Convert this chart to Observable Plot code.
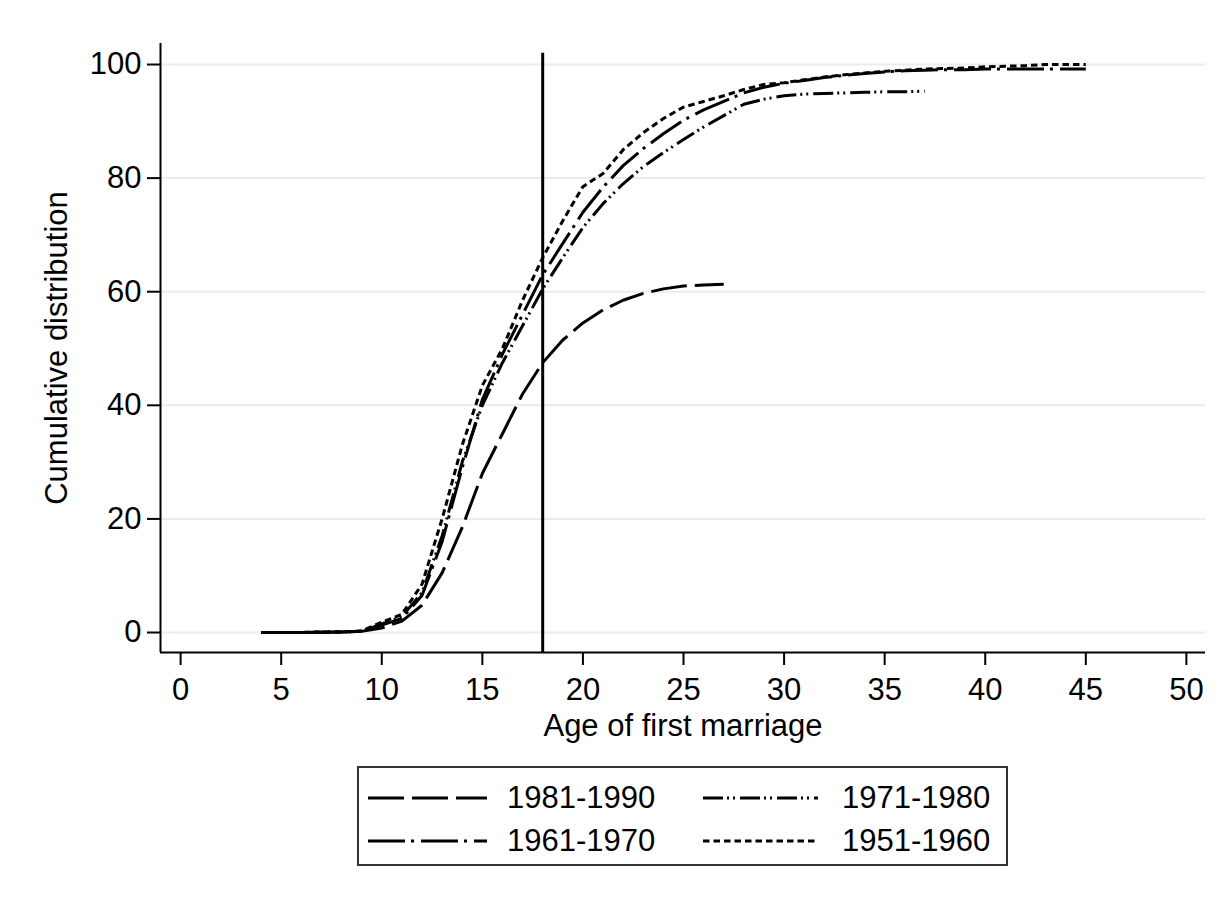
<!DOCTYPE html>
<html>
<head>
<meta charset="utf-8">
<script src="https://cdn.jsdelivr.net/npm/d3@7"></script>
<script src="https://cdn.jsdelivr.net/npm/@observablehq/plot@0.6"></script>
<style>
  html, body { margin: 0; padding: 0; background: #fff; }
  #wrap { position: relative; width: 1225px; height: 903px; overflow: hidden; font-family: "Liberation Sans", Arial, sans-serif; }
  #topline { position: absolute; left: 5px; top: 11px; width: 1220px; height: 2px; background: #e6eef0; }
  #chart { position: absolute; left: 0; top: 0; }
  #legend { position: absolute; left: 357px; top: 766px; width: 647px; height: 96px; border: 2px solid #333; box-sizing: content-box; }
  .item { position: absolute; height: 40px; width: 300px; font-size: 31px; color: #000; }
  .item svg { position: absolute; left: 0; top: 0; display: block; }
  .item span { position: absolute; top: 2px; white-space: nowrap; line-height: 36px; }
</style>
</head>
<body>
<div id="wrap">
  <div id="topline"></div>
  <div id="chart"></div>
  <div id="legend"></div>
</div>
<script>
// ---- data ----
const cohorts = ["1981-1990", "1971-1980", "1961-1970", "1951-1960"];
const ages1981 = d3.range(4, 28);   // 4..27
const cdf1981 = [0,0,0,0,0.1,0.2,0.8,2,4.8,10.5,18.5,28,35,42,47.5,51.5,54.5,56.8,58.5,59.7,60.5,61,61.2,61.3];
const ages1971 = d3.range(4, 38);   // 4..37
const cdf1971 = [0,0,0,0.1,0.1,0.2,1.5,2.8,7,17,30,40,47.5,54,60.5,66,71.3,75.5,79,82,84.5,86.8,89,91,93,93.9,94.5,94.8,94.9,95,95.1,95.2,95.2,95.3];
const ages1961 = d3.range(4, 46);   // 4..45
const cdf1961 = [0,0,0,0.1,0.1,0.2,1.3,2.5,6.5,16,29,41,49,56,63,68.5,74,78.4,82.2,85.2,87.8,90.2,92,93.5,95,96,96.7,97.2,97.7,98.1,98.4,98.7,98.9,99,99.1,99.1,99.2,99.2,99.2,99.2,99.2,99.2];
const ages1951 = d3.range(4, 46);   // 4..45
const cdf1951 = [0,0,0,0.1,0.1,0.3,1.8,3.2,8.5,20,33,43.5,50,58.5,66,72.5,78.5,80.8,85,88,90.5,92.5,93.5,94.5,95.6,96.5,96.8,97.3,97.8,98.2,98.5,98.8,99,99.2,99.3,99.4,99.6,99.7,99.8,100,100,100];
const legalAge = 18;
const xTicks = d3.range(0, 51, 5);
const yTicks = [0, 20, 40, 60, 80, 100];
const xTitle = "Age of first marriage";
const yTitle = "Cumulative distribution";

// ---- styles ----
const dashes = {
  "1981-1990": "36,8",
  "1971-1980": "20,4,2,4,2,5",
  "1961-1970": "37,6,3,7",
  "1951-1960": "6.5,4"
};

const series = [
  {name: "1981-1990", ages: ages1981, vals: cdf1981},
  {name: "1971-1980", ages: ages1971, vals: cdf1971},
  {name: "1961-1970", ages: ages1961, vals: cdf1961},
  {name: "1951-1960", ages: ages1951, vals: cdf1951}
];
const table = series.flatMap(s => s.ages.map((a, i) => ({cohort: s.name, age: a, value: s.vals[i]})));

const xDomain = [-1, 50.95];
const yDomain = [-3.52, 103.7];

const lineMarks = cohorts.map(c => Plot.line(table.filter(d => d.cohort === c), {
  x: "age", y: "value", stroke: "#000", strokeWidth: 3,
  strokeDasharray: dashes[c], strokeLinecap: "butt", strokeLinejoin: "round"
}));

const chart = Plot.plot({
  width: 1225,
  height: 760,
  marginLeft: 160,
  marginRight: 20,
  marginTop: 43,
  marginBottom: 108,
  x: {domain: xDomain},
  y: {domain: yDomain},
  style: {fontFamily: "'Liberation Sans', Arial, sans-serif", fontSize: "31px", color: "#000", background: "#fff"},
  marks: [
    Plot.gridY(yTicks, {stroke: "#e6eef0", strokeOpacity: 1, strokeWidth: 2}),
    Plot.ruleX([xDomain[0]], {stroke: "#000", strokeWidth: 2}),
    Plot.ruleY([yDomain[0]], {stroke: "#000", strokeWidth: 2}),
    Plot.axisX(xTicks, {anchor: "bottom", tickSize: 13, tickPadding: 12, strokeWidth: 2, fontSize: 31, label: null}),
    Plot.axisY(yTicks, {anchor: "left", tickSize: 13, tickPadding: 6, strokeWidth: 2, fontSize: 31, label: null}),
    ...lineMarks,
    Plot.ruleX([legalAge], {y1: yDomain[0], y2: 102, stroke: "#000", strokeWidth: 3}),
    Plot.text([xTitle], {frameAnchor: "bottom", lineAnchor: "middle", dy: 74, fontSize: 31, fill: "#000"}),
    Plot.text([yTitle], {frameAnchor: "left", textAnchor: "middle", lineAnchor: "middle", dx: -103, rotate: -90, fontSize: 31, fill: "#000"})
  ]
});
document.getElementById("chart").appendChild(chart);

// ---- legend ----
const legend = document.getElementById("legend");
const pos = [
  {c: "1981-1990", left: 9, top: 10, lineW: 119, textX: 139},
  {c: "1971-1980", left: 344, top: 10, lineW: 115, textX: 139},
  {c: "1961-1970", left: 9, top: 53, lineW: 119, textX: 139},
  {c: "1951-1960", left: 344, top: 53, lineW: 115, textX: 139}
];
pos.forEach(p => {
  const div = document.createElement("div");
  div.className = "item";
  div.style.left = p.left + "px";
  div.style.top = p.top + "px";
  const svg = d3.create("svg").attr("width", p.lineW).attr("height", 40);
  svg.append("line").attr("x1", 0).attr("x2", p.lineW).attr("y1", 20).attr("y2", 20)
    .attr("stroke", "#000").attr("stroke-width", 3).attr("stroke-dasharray", dashes[p.c]);
  div.appendChild(svg.node());
  const span = document.createElement("span");
  span.style.left = p.textX + "px";
  span.textContent = p.c;
  div.appendChild(span);
  legend.appendChild(div);
});
</script>
</body>
</html>
